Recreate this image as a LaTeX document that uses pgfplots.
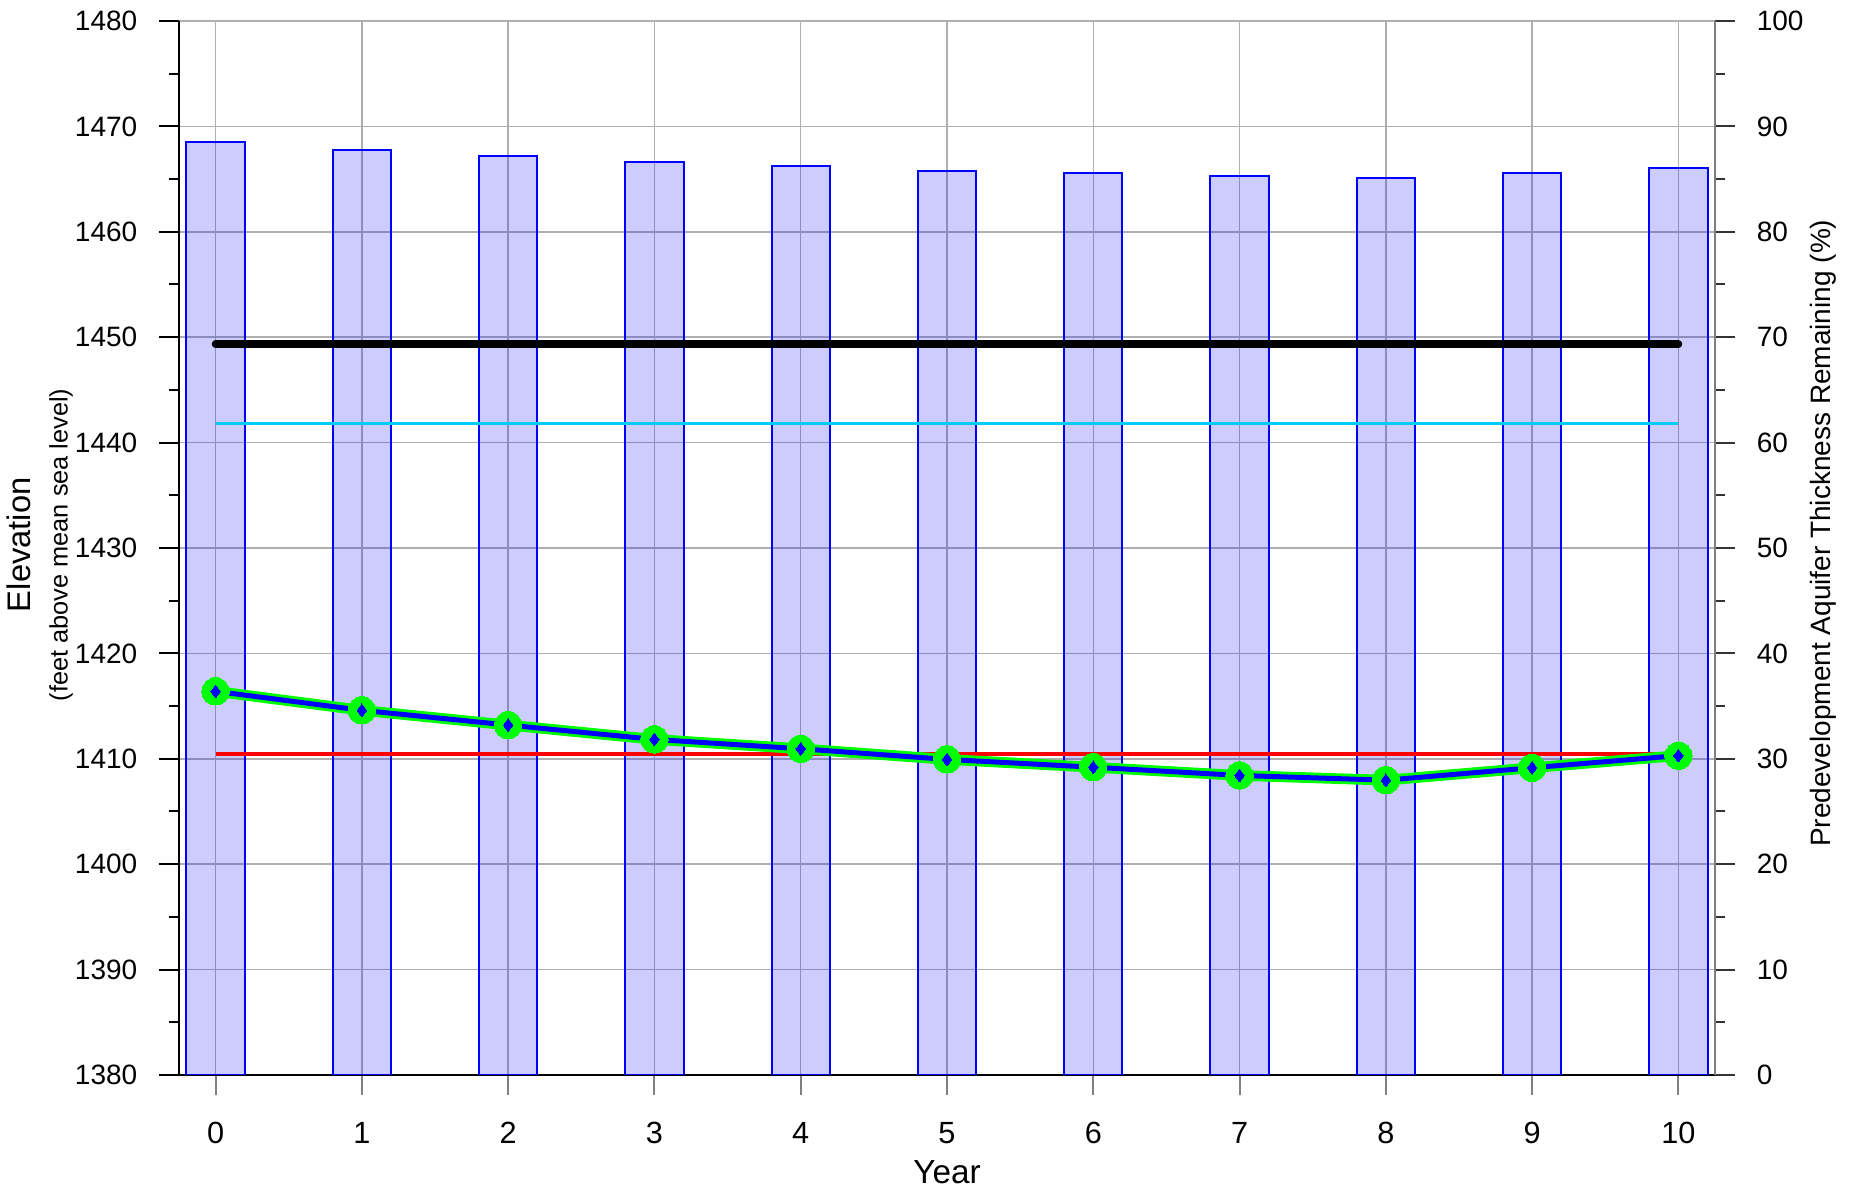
\documentclass[border=0pt]{standalone}
\usepackage{fontspec}
\setmainfont{Liberation Sans}
\usepackage{pgfplots}
\pgfplotsset{compat=1.18}
\definecolor{barfill}{RGB}{204,204,255}
\definecolor{gridgray}{RGB}{175,175,175}
\definecolor{cyanline}{RGB}{0,204,255}
\definecolor{limeg}{RGB}{0,255,0}
\definecolor{rightgray}{RGB}{128,128,128}
\begin{document}
\begin{tikzpicture}
\useasboundingbox (-53.7pt,-33.3pt) rectangle (503.7pt,322.5pt);
\begin{axis}[
  at={(0,0)}, anchor=south west,
  scale only axis, width=460.8pt, height=316.2pt,
  xmin=-0.25, xmax=10.25, ymin=1380, ymax=1480,
  axis x line*=bottom, axis y line*=left,
  axis line style={black, line width=0.6pt, -},
  xtick={0,...,10}, ytick={1380,1390,...,1480},
  minor ytick={1385,1395,...,1475},
  grid=major, major grid style={gridgray, line width=0.45pt},
  tick align=outside, major tick length=6pt, minor tick length=3pt,
  ytick style={line width=0.6pt, black},
  xtick style={line width=0.6pt, rightgray},
  /pgf/number format/assume math mode=true,
  /pgf/number format/1000 sep={},
  yticklabel style={font=\fontsize{8.4}{9}\selectfont, xshift=-3pt},
  xticklabel style={font=\fontsize{9.2}{10}\selectfont, yshift=-4.6pt},
  ylabel={\fontsize{9.8}{10}\selectfont Elevation\\[-1pt]{\fontsize{7.6}{9}\selectfont (feet above mean sea level)}},
  ylabel style={align=center, at={(axis description cs:-0.0905,0.503)}, anchor=center},
  xlabel={\fontsize{10}{11}\selectfont Year},
  xlabel style={at={(axis description cs:0.5,-0.092)}, anchor=center},
]
\addplot[ybar, bar width=17.5pt, draw=blue, line width=0.6pt, fill=blue, fill opacity=0.2] coordinates {
(0,1468.5) (1,1467.77) (2,1467.2) (3,1466.64) (4,1466.2) (5,1465.8) (6,1465.55) (7,1465.25) (8,1465.1) (9,1465.55) (10,1466.05)};
\addplot[black, line width=2.3pt, line cap=round] coordinates {(0,1449.34) (10,1449.34)};
\addplot[cyanline, line width=0.9pt] coordinates {(0,1441.77) (10,1441.77)};
\addplot[red, line width=1.2pt] coordinates {(0,1410.48) (10,1410.48)};
\addplot[limeg, line width=3.2pt, mark=*, mark size=4.1pt, mark options={fill=limeg, draw=limeg, line width=0pt}] coordinates {
(0,1416.4) (1,1414.6) (2,1413.2) (3,1411.84) (4,1410.95) (5,1409.94) (6,1409.2) (7,1408.42) (8,1407.97) (9,1409.15) (10,1410.3)};
\addplot[blue, line width=1.5pt, mark=diamond*, mark size=1.9pt, mark options={fill=blue, draw=blue, line width=0pt}] coordinates {
(0,1416.4) (1,1414.6) (2,1413.2) (3,1411.84) (4,1410.95) (5,1409.94) (6,1409.2) (7,1408.42) (8,1407.97) (9,1409.15) (10,1410.3)};
\end{axis}
\begin{axis}[
  at={(0,0)}, anchor=south west,
  scale only axis, width=460.8pt, height=316.2pt,
  xmin=-0.25, xmax=10.25, ymin=0, ymax=100,
  axis y line*=right, axis x line=none,
  axis line style={rightgray, line width=0.7pt, -},
  ytick={0,10,...,100}, minor ytick={5,15,...,95},
  tick align=outside, major tick length=6pt, minor tick length=3pt,
  ytick style={line width=0.6pt, black!80},
  /pgf/number format/assume math mode=true,
  yticklabel style={font=\fontsize{8.4}{9}\selectfont, xshift=3pt},
  ylabel={\fontsize{8.4}{10}\selectfont Predevelopment Aquifer Thickness Remaining (\%)},
  ylabel style={at={(axis description cs:1.0703,0.514)}, anchor=center},
]
\addplot[draw=none, mark=none] coordinates {(0,0) (10,100)};
\end{axis}
\end{tikzpicture}
\end{document}
